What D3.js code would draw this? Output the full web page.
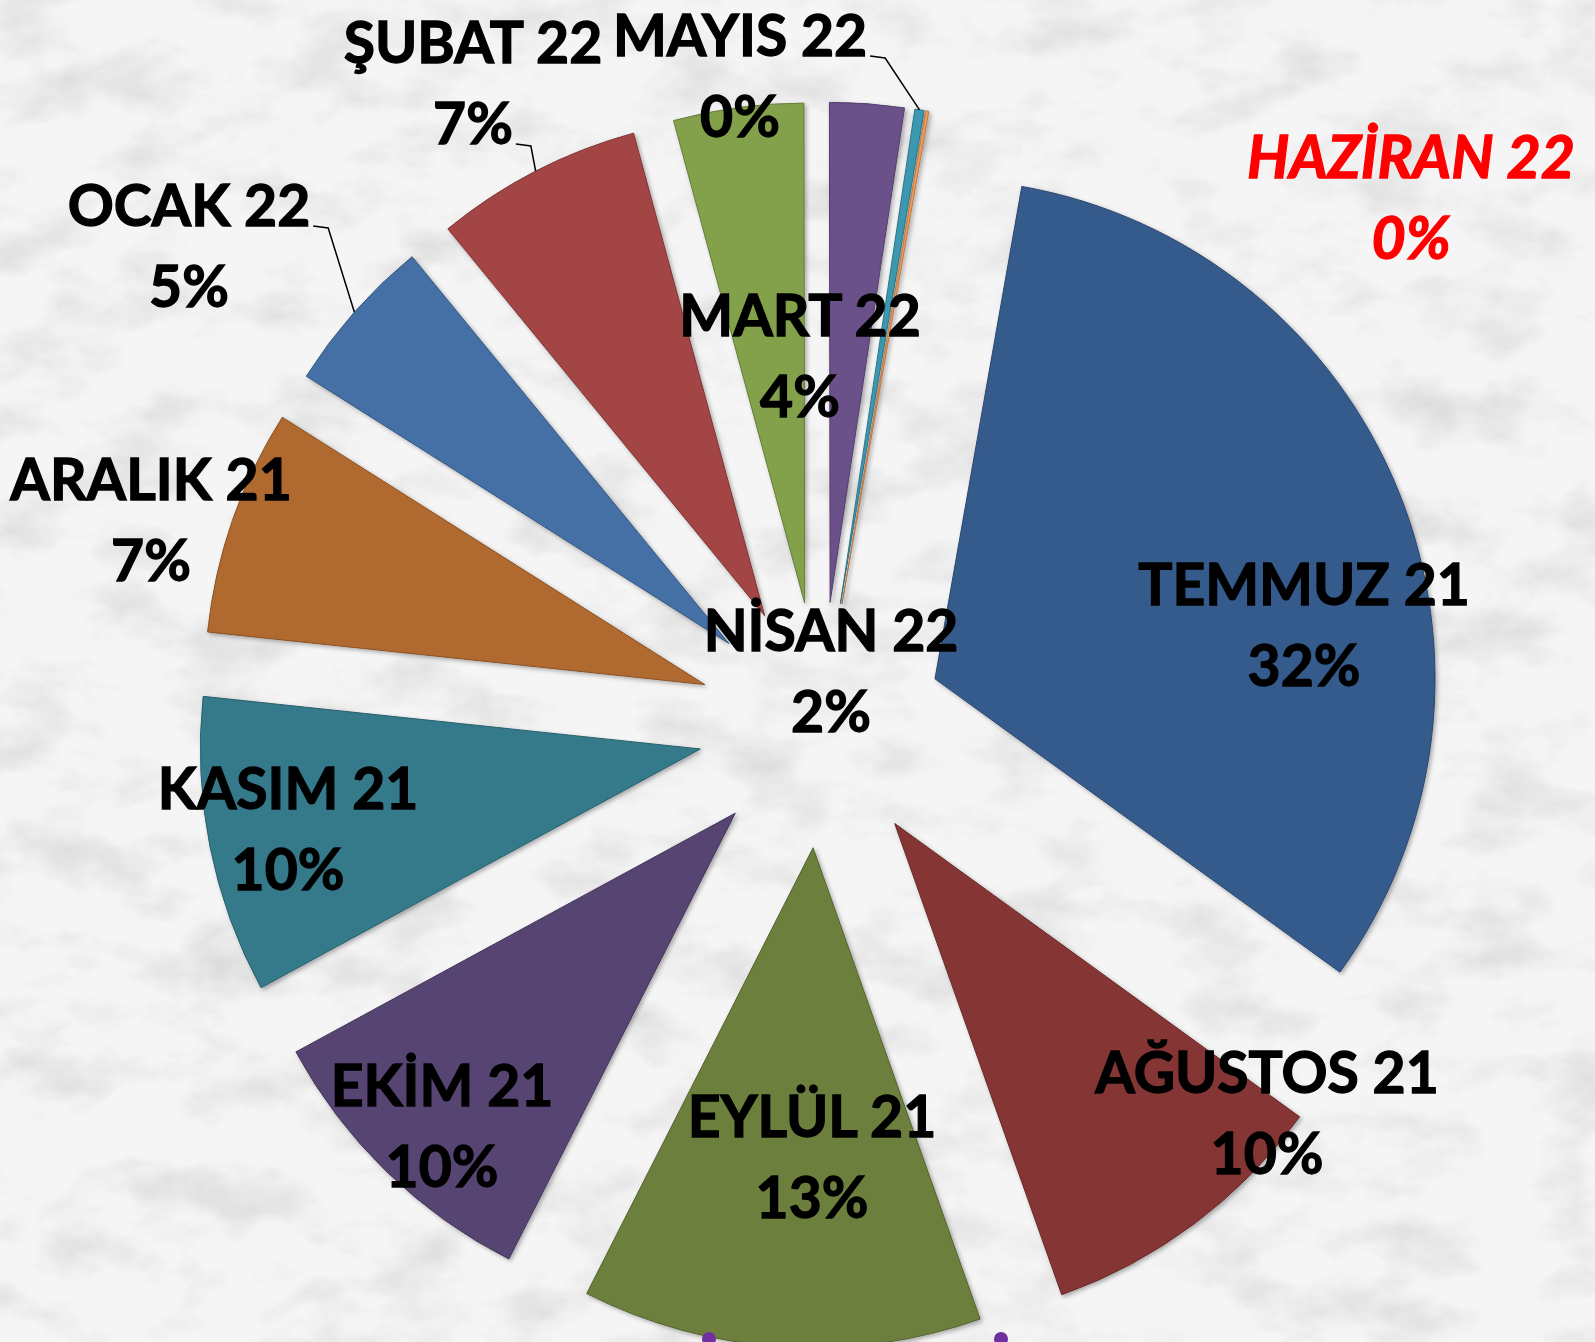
<!DOCTYPE html>
<html>
<head>
<meta charset="utf-8">
<script src="https://cdn.jsdelivr.net/npm/d3@7"></script>
<style>
  html, body { margin: 0; padding: 0; background: #f0f0f0; }
  svg { display: block; }
  text { font-family: Lato, "Open Sans", sans-serif; font-weight: 700; }
</style>
</head>
<body>
<script>
// months, clockwise starting from TEMMUZ 21
var months = ["TEMMUZ 21", "AĞUSTOS 21", "EYLÜL 21", "EKİM 21", "KASIM 21", "ARALIK 21",
              "OCAK 22", "ŞUBAT 22", "MART 22", "NİSAN 22", "MAYIS 22", "HAZİRAN 22"];
// share of each month
var shares = [32.2, 9.6, 12.9, 9.6, 9.6, 7.3, 5.1, 6.7, 4.2, 2.4, 0.3, 0.1];

var colors = ["#365a8c", "#863535", "#6c7f3c", "#574472", "#357a8b", "#b0692f",
              "#4470a6", "#a34444", "#83a04b", "#6a5189", "#3b98af", "#f39a5a"];

// label anchors relative to pie centre (centre x, first baseline)
var labelOffsets = [[483, -120], [446, 368], [-9, 412], [-379, 381], [-533, 84], [-670, -225],
                    [-632, -499], [-348, -662], [-21, -389], [10, -74], [-81, -669], [590, -547]];
// which label line the leader starts from (-1 = none)
var leaderLine = [-1, -1, -1, -1, -1, -1, 0, 1, -1, -1, 0, -1];

var width = 1595, height = 1342;
var cx = 821, cy = 725, radius = 500, explode = 123;
var lineGap = 81;

var svg = d3.select("body")
    .append("svg")
    .attr("width", width)
    .attr("height", height);

var defs = svg.append("defs");

var marble = defs.append("filter")
    .attr("id", "marble")
    .attr("x", 0).attr("y", 0).attr("width", "100%").attr("height", "100%");
marble.append("feTurbulence")
    .attr("type", "fractalNoise")
    .attr("baseFrequency", "0.011 0.018")
    .attr("numOctaves", 6)
    .attr("seed", 11);
marble.append("feColorMatrix")
    .attr("type", "matrix")
    .attr("values", "0 0 0 0 0.70  0 0 0 0 0.70  0 0 0 0 0.70  2.0 0 0 0 -0.92");

var shadow = defs.append("filter")
    .attr("id", "shadow")
    .attr("x", "-10%").attr("y", "-10%").attr("width", "120%").attr("height", "120%");
shadow.append("feDropShadow")
    .attr("dx", 2).attr("dy", 2)
    .attr("stdDeviation", 2)
    .attr("flood-color", "#000")
    .attr("flood-opacity", 0.3);

svg.append("rect")
    .attr("width", width).attr("height", height)
    .attr("fill", "#f5f5f5");
svg.append("rect")
    .attr("width", width).attr("height", height)
    .attr("filter", "url(#marble)");

var data = months.map(function(m, i) {
    return { month: m, value: shares[i], color: colors[i], i: i };
});
var total = d3.sum(shares);
var fmt = d3.format(".0%");

var startAngle = 10 * Math.PI / 180;
var pie = d3.pie()
    .value(function(d) { return d.value; })
    .sort(null)
    .startAngle(startAngle)
    .endAngle(startAngle + 2 * Math.PI);

var arc = d3.arc()
    .innerRadius(0)
    .outerRadius(radius);

var arcs = pie(data);

function mid(a) { return (a.startAngle + a.endAngle) / 2; }

var g = svg.append("g")
    .attr("transform", "translate(" + cx + "," + cy + ")");

g.selectAll("path.slice")
    .data(arcs)
    .enter()
    .append("path")
    .attr("class", "slice")
    .attr("d", arc)
    .attr("transform", function(a) {
        var m = mid(a);
        return "translate(" + (Math.sin(m) * explode) + "," + (-Math.cos(m) * explode) + ")";
    })
    .attr("fill", function(a) { return a.data.color; })
    .attr("stroke", function(a) { return d3.color(a.data.color).darker(0.7); })
    .attr("stroke-width", 1)
    .attr("filter", "url(#shadow)");

var labels = g.selectAll("g.label")
    .data(arcs)
    .enter()
    .append("g")
    .attr("class", "label")
    .attr("transform", function(a) {
        var o = labelOffsets[a.data.i];
        return "translate(" + o[0] + "," + o[1] + ")";
    });

labels.each(function(a) {
    var sel = d3.select(this);
    var red = a.data.month === "HAZİRAN 22";
    var lines = [a.data.month, fmt(a.data.value / total)];
    var texts = lines.map(function(t, k) {
        return sel.append("text")
            .attr("x", 0)
            .attr("y", k * lineGap)
            .attr("text-anchor", "middle")
            .attr("font-size", red ? 59 : 57)
            .attr("font-style", red ? "italic" : "normal")
            .attr("fill", red ? "#ff0000" : "#000")
            .attr("stroke", red ? "#ff0000" : "#000")
            .attr("stroke-width", 1.3)
            .text(t);
    });

    var li = leaderLine[a.data.i];
    if (li >= 0) {
        var bb = texts[li].node().getBBox();
        var o = labelOffsets[a.data.i];
        var m = mid(a);
        var r = explode + radius;
        var ex = Math.sin(m) * r - o[0];
        var ey = -Math.cos(m) * r - o[1];
        var sx = bb.x + bb.width + 3, sy = li * lineGap;
        sel.append("path")
            .attr("d", "M" + sx + "," + sy + "L" + (sx + 15) + "," + (sy + 2) + "L" + ex + "," + ey)
            .attr("fill", "none")
            .attr("stroke", "#000")
            .attr("stroke-width", 1.5);
    }
});

// cut-off purple marks at the bottom edge
svg.selectAll("circle.mark")
    .data([709, 1001])
    .enter()
    .append("circle")
    .attr("cx", function(d) { return d; })
    .attr("cy", 1339)
    .attr("r", 7)
    .attr("fill", "#7030a0");
</script>
</body>
</html>
